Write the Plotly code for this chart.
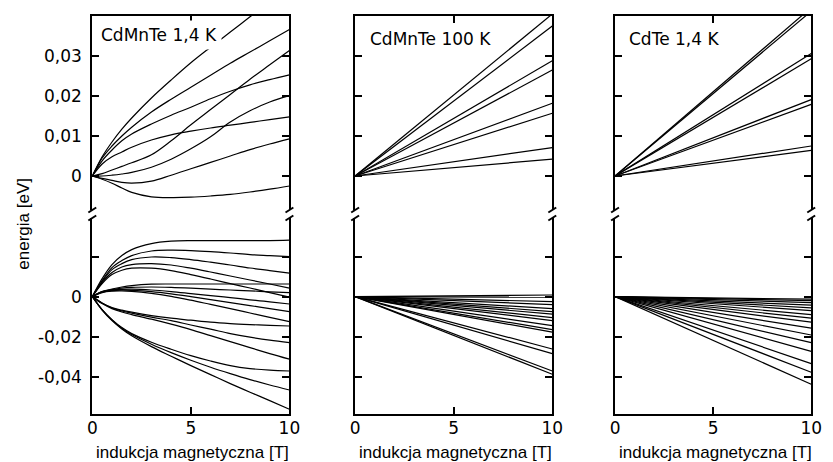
import plotly.graph_objects as go

# ---------------- data ----------------
B_GRID = [0, 0.5, 1, 1.5, 2, 3, 4, 5, 6, 7, 8, 9, 10]
B_LIN = [0, 10]

# CdMnTe 1,4 K  -- upper (conduction-band like) levels [eV]
cdmnte14_upper = [
    [0, 0.0048, 0.0085, 0.0117, 0.0145, 0.0195, 0.0240, 0.0283, 0.0322, 0.0360, 0.0398, 0.0436, 0.0474],
    [0, 0.0045, 0.0075, 0.0100, 0.0122, 0.0160, 0.0192, 0.0222, 0.0252, 0.0282, 0.0310, 0.0338, 0.0366],
    [0, 0.0038, 0.0065, 0.0088, 0.0105, 0.0130, 0.0152, 0.0172, 0.0193, 0.0212, 0.0228, 0.0241, 0.0253],
    [0, 0.0030, 0.0048, 0.0060, 0.0072, 0.0090, 0.0103, 0.0112, 0.0120, 0.0127, 0.0134, 0.0141, 0.0148],
    [0, 0.0006, 0.0015, 0.0024, 0.0033, 0.0053, 0.0088, 0.0128, 0.0166, 0.0204, 0.0242, 0.0278, 0.0314],
    [0, 0.0000, 0.0002, 0.0005, 0.0009, 0.0022, 0.0042, 0.0068, 0.0098, 0.0135, 0.0163, 0.0185, 0.0201],
    [0, -0.0006, -0.0011, -0.0016, -0.0018, -0.0013, 0.0002, 0.0018, 0.0034, 0.0050, 0.0066, 0.0080, 0.0093],
    [0, -0.0008, -0.0018, -0.0030, -0.0041, -0.0052, -0.0054, -0.0053, -0.0050, -0.0046, -0.0040, -0.0033, -0.0025],
]

# CdMnTe 1,4 K  -- lower (valence-band like) levels [eV]
cdmnte14_lower = [
    [0, 0.0090, 0.0160, 0.0205, 0.0235, 0.0265, 0.0277, 0.0280, 0.0280, 0.0280, 0.0280, 0.0280, 0.0282],
    [0, 0.0080, 0.0145, 0.0180, 0.0205, 0.0228, 0.0232, 0.0230, 0.0225, 0.0218, 0.0210, 0.0205, 0.0200],
    [0, 0.0075, 0.0135, 0.0165, 0.0185, 0.0198, 0.0195, 0.0185, 0.0172, 0.0158, 0.0143, 0.0130, 0.0117],
    [0, 0.0070, 0.0120, 0.0148, 0.0160, 0.0165, 0.0158, 0.0142, 0.0123, 0.0103, 0.0083, 0.0063, 0.0042],
    [0, 0.0065, 0.0110, 0.0132, 0.0142, 0.0142, 0.0130, 0.0110, 0.0088, 0.0065, 0.0043, 0.0020, -0.0003],
    [0, 0.0025, 0.0038, 0.0048, 0.0055, 0.0062, 0.0063, 0.0063, 0.0063, 0.0063, 0.0063, 0.0063, 0.0063],
    [0, 0.0025, 0.0035, 0.0042, 0.0046, 0.0048, 0.0046, 0.0042, 0.0037, 0.0033, 0.0029, 0.0024, 0.0020],
    [0, 0.0024, 0.0033, 0.0036, 0.0037, 0.0033, 0.0025, 0.0015, 0.0005, -0.0005, -0.0016, -0.0026, -0.0037],
    [0, 0.0022, 0.0030, 0.0032, 0.0031, 0.0025, 0.0014, 0.0000, -0.0015, -0.0030, -0.0045, -0.0060, -0.0075],
    [0, 0.0020, 0.0027, 0.0028, 0.0026, 0.0016, 0.0001, -0.0018, -0.0039, -0.0060, -0.0082, -0.0104, -0.0125],
    [0, -0.0032, -0.0055, -0.0068, -0.0078, -0.0095, -0.0108, -0.0118, -0.0128, -0.0135, -0.0140, -0.0144, -0.0147],
    [0, -0.0033, -0.0057, -0.0072, -0.0083, -0.0103, -0.0120, -0.0142, -0.0163, -0.0185, -0.0203, -0.0218, -0.0230],
    [0, -0.0035, -0.0060, -0.0077, -0.0090, -0.0113, -0.0138, -0.0165, -0.0195, -0.0225, -0.0255, -0.0285, -0.0313],
    [0, -0.0065, -0.0115, -0.0155, -0.0185, -0.0228, -0.0263, -0.0295, -0.0322, -0.0345, -0.0360, -0.0368, -0.0372],
    [0, -0.0066, -0.0117, -0.0158, -0.0190, -0.0238, -0.0280, -0.0318, -0.0353, -0.0385, -0.0415, -0.0442, -0.0467],
    [0, -0.0067, -0.0120, -0.0162, -0.0196, -0.0250, -0.0298, -0.0345, -0.0390, -0.0435, -0.0478, -0.0520, -0.0563],
]

# CdMnTe 100 K -- straight levels, value at 10 T [eV]
cdmnte100_upper_end = [0.0405, 0.0375, 0.0288, 0.0265, 0.0182, 0.0157, 0.0071, 0.0042]
cdmnte100_lower_end = [0.0008, -0.0003, -0.0025, -0.0040, -0.0060, -0.0075, -0.0088, -0.0105,
                       -0.0120, -0.0145, -0.0165, -0.0178, -0.0262, -0.0285, -0.0372, -0.0388]

# CdTe 1,4 K -- straight levels, value at 10 T [eV]
cdte_upper_end = [0.0421, 0.0412, 0.0306, 0.0293, 0.0191, 0.0179, 0.0075, 0.0064]
cdte_lower_end = [-0.0013, -0.0020, -0.0030, -0.0043, -0.0056, -0.0070, -0.0090, -0.0108,
                  -0.0128, -0.0158, -0.0192, -0.0230, -0.0274, -0.0335, -0.0378, -0.0438]

panel_titles = ["CdMnTe 1,4 K", "CdMnTe 100 K", "CdTe 1,4 K"]
x_title = "indukcja magnetyczna [T]"
y_title = "energia [eV]"

top_tickvals = [0, 0.01, 0.02, 0.03]
top_ticktext = ["0", "0,01", "0,02", "0,03"]
bot_tickvals = [0.02, 0, -0.02, -0.04]
bot_ticktext = ["", "0", "-0,02", "-0,04"]
x_tickvals = [0, 5, 10]
x_ticktext = ["0", "5", "10"]

# ---------------- layout geometry ----------------
W, H = 833, 462
PANEL_X = [(89, 290), (357, 558), (622, 822)]
TOP_Y = (16, 210)
BOT_Y = (218, 414)
TOP_RANGE = [-0.0085, 0.04]
BOT_RANGE = [-0.0587, 0.0393]

def px_x(p):
    return p / W

def px_y(p):
    return 1 - p / H

fig = go.Figure()

LINE = dict(color="black", width=1.2)
TICKFONT = dict(family="DejaVu Sans", size=17, color="black")
TITLEFONT = dict(family="Liberation Sans Narrow, Liberation Sans, Arial, sans-serif", size=17, color="black")

panels_data = [
    (B_GRID, cdmnte14_upper, cdmnte14_lower, "spline"),
    (B_LIN, [[0, v] for v in cdmnte100_upper_end], [[0, v] for v in cdmnte100_lower_end], "linear"),
    (B_LIN, [[0, v] for v in cdte_upper_end], [[0, v] for v in cdte_lower_end], "linear"),
]

layout = {}
for i, (xs, ups, lows, shape) in enumerate(panels_data):
    nt = 2 * i + 1
    nb = 2 * i + 2
    for ys in ups:
        fig.add_trace(go.Scatter(x=xs, y=ys, mode="lines", line=dict(LINE, shape=shape),
                                 xaxis=f"x{nt}", yaxis=f"y{nt}", showlegend=False, hoverinfo="skip"))
    for ys in lows:
        fig.add_trace(go.Scatter(x=xs, y=ys, mode="lines", line=dict(LINE, shape=shape),
                                 xaxis=f"x{nb}", yaxis=f"y{nb}", showlegend=False, hoverinfo="skip"))
    x0, x1 = PANEL_X[i]
    dom_x = [px_x(x0), px_x(x1)]
    common_x = dict(domain=dom_x, range=[0, 10], showgrid=False, zeroline=False, showline=True,
                    linecolor="black", linewidth=2, ticks="inside", ticklen=7, tickwidth=2,
                    tickcolor="black", tickvals=x_tickvals, ticktext=x_ticktext, tickfont=TICKFONT,
                    fixedrange=True)
    common_y = dict(showgrid=False, zeroline=False, showline=True, linecolor="black", linewidth=2,
                    ticks="inside", ticklen=7, tickwidth=2, tickcolor="black", mirror="ticks",
                    tickfont=TICKFONT, fixedrange=True, ticklabelstandoff=5)
    layout[f"xaxis{nt}"] = dict(common_x, anchor=f"y{nt}", side="top", showticklabels=False)
    layout[f"xaxis{nb}"] = dict(common_x, anchor=f"y{nb}", side="bottom", showticklabels=True,
                                ticklabelstandoff=-2)
    layout[f"yaxis{nt}"] = dict(common_y, anchor=f"x{nt}", domain=[px_y(TOP_Y[1]), px_y(TOP_Y[0])],
                                range=TOP_RANGE, tickvals=top_tickvals, ticktext=top_ticktext,
                                showticklabels=(i == 0))
    layout[f"yaxis{nb}"] = dict(common_y, anchor=f"x{nb}", domain=[px_y(BOT_Y[1]), px_y(BOT_Y[0])],
                                range=BOT_RANGE, tickvals=bot_tickvals, ticktext=bot_ticktext,
                                showticklabels=(i == 0))

fig.update_layout(**layout)

annotations = []
shapes = []
title_y = [35, 38.5, 38.5]
title_dx = [4, 10, 9]
for i in range(3):
    x0, x1 = PANEL_X[i]
    annotations.append(dict(text=panel_titles[i], xref="paper", yref="paper",
                            x=px_x(x0 + title_dx[i]), y=px_y(title_y[i]), xanchor="left", yanchor="middle",
                            showarrow=False, bgcolor="white", borderpad=4,
                            font=dict(family="DejaVu Sans", size=17, color="black")))
    annotations.append(dict(text=x_title, xref="paper", yref="paper",
                            x=px_x((x0 + x1) / 2 + 2), y=px_y(452), xanchor="center", yanchor="middle",
                            showarrow=False, font=TITLEFONT))
    # axis break marks
    for xe in (x0, x1):
        for ye in (TOP_Y[1], BOT_Y[0]):
            shapes.append(dict(type="line", xref="paper", yref="paper",
                               x0=px_x(xe - 4), y0=px_y(ye + 2.5), x1=px_x(xe + 4), y1=px_y(ye - 2.5),
                               line=dict(color="black", width=2)))

annotations.append(dict(text=y_title, xref="paper", yref="paper", x=px_x(18), y=px_y(224),
                        xanchor="center", yanchor="middle", textangle=-90, showarrow=False,
                        font=TITLEFONT))

fig.update_layout(width=W, height=H, margin=dict(l=0, r=0, t=0, b=0),
                  paper_bgcolor="white", plot_bgcolor="white",
                  annotations=annotations, shapes=shapes, showlegend=False)

fig.write_html("out.html")
